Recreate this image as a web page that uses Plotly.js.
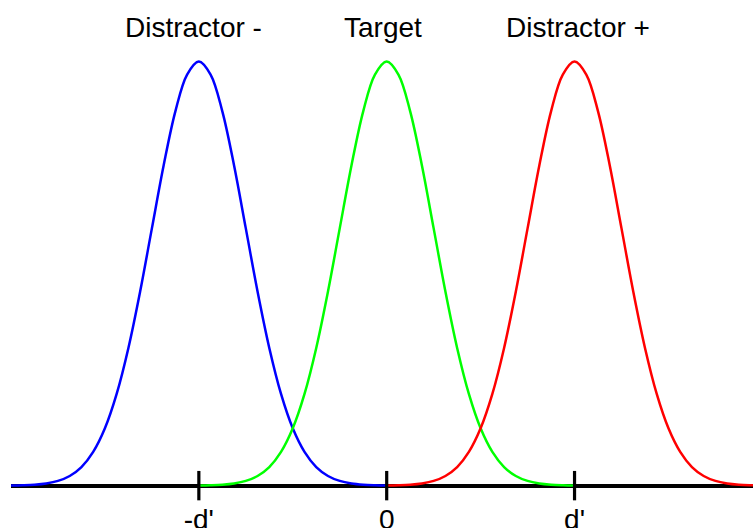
<!DOCTYPE html>
<html>
<head>
<meta charset="utf-8">
<script src="https://cdn.plot.ly/plotly-3.0.1.min.js"></script>
<style>html,body{margin:0;padding:0;background:#fff;}#chart{width:753px;height:528px;}</style>
</head>
<body>
<div id="chart"></div>
<script>
// Distribution labels and their means (in units of sigma)
const categories = ["Distractor -", "Target", "Distractor +"];
const means = [-4, 0, 4];
const colors = ["#0000ff", "#00ff00", "#ff0000"];

// Shared curve profile: offset from mean vs. relative height
const offsets = [-4, -3.75, -3.5, -3.25, -3, -2.75, -2.5, -2.25, -2, -1.75, -1.5, -1.25, -1, -0.75, -0.5, -0.25,
                 0, 0.25, 0.5, 0.75, 1, 1.25, 1.5, 1.75, 2, 2.25, 2.5, 2.75, 3, 3.25, 3.5, 3.75, 4];
const heights = [0.0003, 0.0009, 0.0022, 0.0051, 0.0111, 0.0228, 0.0439, 0.0796, 0.1353, 0.2163, 0.3247, 0.4578, 0.6065, 0.7548, 0.8825, 0.9692,
                 1.0, 0.9692, 0.8825, 0.7548, 0.6065, 0.4578, 0.3247, 0.2163, 0.1353, 0.0796, 0.0439, 0.0228, 0.0111, 0.0051, 0.0022, 0.0009, 0.0003];

// Axis ticks
const tickVals = [-4, 0, 4];
const tickText = ["-d'", "0", "d'"];

const FONT = "Arial, 'Liberation Sans', sans-serif";

const traces = categories.map((name, i) => ({
  type: "scatter",
  mode: "lines",
  name: name,
  x: offsets.map(o => o + means[i]),
  y: heights,
  line: {color: colors[i], width: 2.5, shape: "spline"},
  hoverinfo: "skip"
}));

// cross-shaped tick marks on the axis
traces.push({
  type: "scatter",
  mode: "markers",
  x: tickVals,
  y: tickVals.map(() => 0),
  marker: {symbol: "line-ns", size: 21, line: {color: "#000", width: 3.2}},
  cliponaxis: false,
  hoverinfo: "skip"
});

const xshifts = [-5, -4, 3];
const annotations = categories.map((name, i) => ({
  x: means[i], y: 1, xref: "x", yref: "y",
  text: name, showarrow: false,
  xanchor: "center", yanchor: "middle",
  xshift: xshifts[i], yshift: 34,
  font: {family: FONT, size: 28, color: "#000"}
}));

const layout = {
  width: 753, height: 528,
  margin: {l: 11, r: 0, t: 52.5, b: 35.6, pad: 0},
  paper_bgcolor: "#fff", plot_bgcolor: "#fff",
  showlegend: false,
  xaxis: {
    range: [-8, 7.8],
    showgrid: false, zeroline: false, showline: false,
    tickmode: "array", tickvals: tickVals, ticktext: tickText,
    ticks: "", ticklabelstandoff: 8,
    tickfont: {family: FONT, size: 28, color: "#000"},
    fixedrange: true
  },
  yaxis: {
    range: [-0.015, 1.02],
    showgrid: false, showticklabels: false, ticks: "",
    showline: false,
    zeroline: true, zerolinecolor: "#000", zerolinewidth: 3.8,
    fixedrange: true
  },
  annotations: annotations
};

Plotly.newPlot("chart", traces, layout, {displayModeBar: false, staticPlot: true});
</script>
</body>
</html>
